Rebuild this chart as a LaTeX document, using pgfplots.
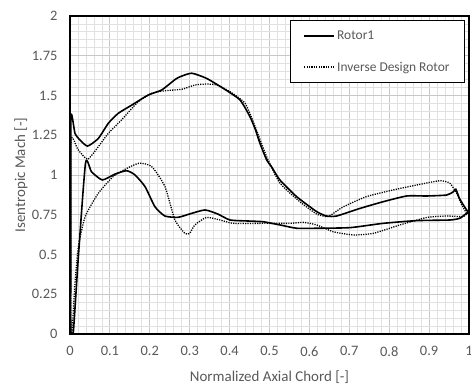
\documentclass[border=0pt]{standalone}
\usepackage{pgfplots}
\pgfplotsset{compat=1.18}
\usepackage{fontspec}
\setmainfont{Carlito}
\definecolor{majgrid}{RGB}{200,200,200}
\definecolor{mingrid}{RGB}{225,225,225}
\definecolor{txt}{RGB}{89,89,89}
\begin{document}
\begin{tikzpicture}
\path[use as bounding box] (-70bp,-51bp) rectangle (401bp,334bp);
\begin{axis}[
  scale only axis, width=399bp, height=318bp,
  xmin=0, xmax=1, ymin=0, ymax=2,
  xtick={0,0.1,...,1.01}, ytick={0,0.25,...,2.01},
  xticklabels={0,0.1,0.2,0.3,0.4,0.5,0.6,0.7,0.8,0.9,1},
  yticklabels={0,0.25,0.5,0.75,1,1.25,1.5,1.75,2},
  minor x tick num=4, minor y tick num=4,
  major tick length=0pt, minor tick length=0pt,
  grid=both,
  major grid style={draw=majgrid, line width=0.8bp},
  minor grid style={draw=mingrid, line width=0.8bp},
  axis line style={line width=1.3bp, black},
  /pgf/number format/assume math mode=true,
  tick label style={font=\fontsize{14.5}{17}\selectfont, text=txt},
  yticklabel style={anchor=east, xshift=-9bp},
  xticklabel style={anchor=north, yshift=-9bp},
  every axis x label/.style={at={(axis description cs:0.5,0)}, yshift=-43bp, anchor=center,
    font=\fontsize{15}{18}\selectfont, text=txt},
  every axis y label/.style={at={(axis description cs:0,0.5)}, xshift=-49bp, rotate=90, anchor=center,
    font=\fontsize{15}{18}\selectfont, text=txt},
  xlabel={Normalized Axial Chord [-]},
  ylabel={Isentropic Mach [-]},
  legend style={at={(0.99,0.987)}, anchor=north east, draw=black, line width=1bp,
    font=\fontsize{13.5}{16}\selectfont, text=txt,
    row sep=17bp, inner xsep=13bp, inner ysep=8bp, fill=white,
    legend cell align=left},
  legend image code/.code={\draw[#1] (0bp,0bp) -- (30bp,0bp);},
  clip=true,
]
\addplot[black, line width=1.6bp, smooth, tension=0.35, legend image post style={line width=1.8bp}] coordinates {
(1.0,0.76) (0.994,0.78) (0.986,0.811) (0.976,0.853) (0.967,0.91) (0.961,0.895)
(0.944,0.874) (0.894,0.868) (0.844,0.868) (0.785,0.832) (0.727,0.79) (0.668,0.742)
(0.643,0.742) (0.618,0.77) (0.568,0.864) (0.526,0.969) (0.505,1.052) (0.493,1.094)
(0.476,1.2) (0.464,1.29) (0.451,1.367) (0.426,1.472) (0.384,1.545) (0.342,1.608)
(0.305,1.64) (0.276,1.618) (0.263,1.6) (0.23,1.535) (0.196,1.503) (0.155,1.44)
(0.121,1.388) (0.096,1.325) (0.071,1.23) (0.044,1.182) (0.025,1.22) (0.0125,1.262)
(0.0025,1.367) (0.002,0.6) (0.002,0.0) (0.008,0) (0.021,0.486) (0.039,1.077)
(0.054,1.02) (0.081,0.969) (0.113,1.006) (0.142,1.027) (0.163,1.0) (0.188,0.927)
(0.213,0.80) (0.238,0.742) (0.271,0.734) (0.3,0.755) (0.338,0.78) (0.37,0.755)
(0.401,0.717) (0.443,0.711) (0.484,0.706) (0.526,0.686) (0.568,0.665) (0.618,0.665)
(0.702,0.669) (0.785,0.696) (0.869,0.713) (0.952,0.717) (0.977,0.728) (0.994,0.759) (1.0,0.76)
};
\addlegendentry{Rotor1}
\addplot[black, line width=1.3bp, dash pattern=on 1.2bp off 1.2bp, smooth, tension=0.35, legend image post style={line width=1.3bp}] coordinates {
(0.994,0.759) (0.982,0.811) (0.969,0.885) (0.952,0.948) (0.927,0.964) (0.869,0.937)
(0.81,0.906) (0.743,0.864) (0.685,0.80) (0.655,0.75) (0.643,0.738) (0.618,0.755)
(0.576,0.832) (0.526,0.95) (0.493,1.115) (0.464,1.304) (0.439,1.45) (0.401,1.524)
(0.368,1.566) (0.342,1.572) (0.313,1.566) (0.28,1.539) (0.238,1.53) (0.205,1.514)
(0.171,1.461) (0.129,1.346) (0.096,1.262) (0.071,1.178) (0.044,1.099) (0.02,1.16)
(0.0025,1.22) (0.002,0.6) (0.002,0) (0.005,0) (0.012,0.3) (0.021,0.549) (0.038,0.738)
(0.071,0.885) (0.113,1.0) (0.171,1.073) (0.205,1.052) (0.238,0.927) (0.263,0.717)
(0.288,0.633) (0.3,0.633) (0.313,0.686) (0.342,0.733) (0.376,0.717) (0.409,0.696)
(0.484,0.696) (0.551,0.696) (0.585,0.702) (0.618,0.686) (0.66,0.643) (0.71,0.623)
(0.76,0.633) (0.827,0.686) (0.894,0.733) (0.944,0.742) (0.986,0.738) (0.994,0.759)
};
\addlegendentry{Inverse Design Rotor}
\end{axis}
\end{tikzpicture}
\end{document}
